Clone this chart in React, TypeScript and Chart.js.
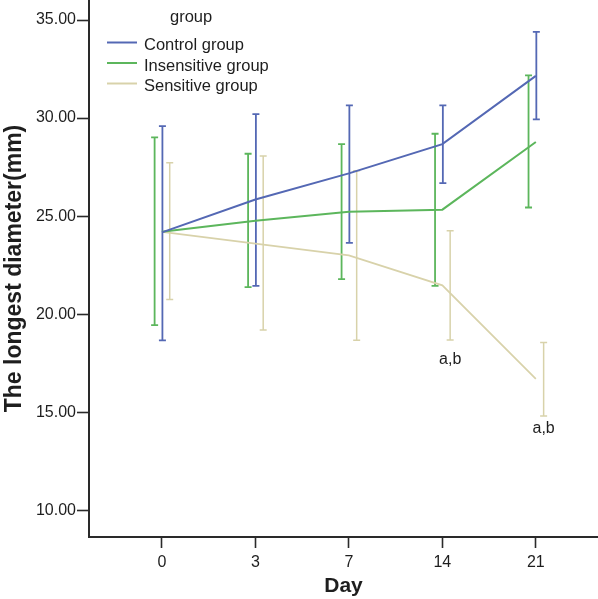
import React, { useEffect, useRef } from 'react';
import { Chart, registerables } from 'chart.js';

Chart.register(...registerables);

// ---- data ----
const days = ['0', '3', '7', '14', '21'];
const legendTitle = 'group';
const seriesNames = ['Control group', 'Insensitive group', 'Sensitive group'];

const controlMean = [24.17, 25.85, 27.18, 28.67, 32.15];
const controlLow = [18.67, 21.44, 23.64, 26.68, 29.93];
const controlHigh = [29.59, 30.2, 30.65, 30.65, 34.39];

const insensitiveMean = [24.2, 24.77, 25.22, 25.33, 28.78];
const insensitiveLow = [19.44, 21.38, 21.79, 21.44, 25.44];
const insensitiveHigh = [29.02, 28.18, 28.67, 29.2, 32.18];

const sensitiveMean = [24.2, 23.6, 23.0, 21.47, 16.7];
const sensitiveLow = [20.75, 19.2, 18.67, 18.69, 14.81];
const sensitiveHigh = [27.72, 28.06, 27.31, 24.25, 18.56];

const sensitiveMarks = ['', '', '', 'a,b', 'a,b'];
const sensitiveMarkValues = [null, null, null, 17.45, 13.95];

const yTicks = [10, 15, 20, 25, 30, 35];
const yMin = 8.64;
const yMax = 36.02;
const xMin = -0.78;
const xMax = 4.665;

const FONT = "'Liberation Sans', Arial, Helvetica, sans-serif";
const TEXT = '#1e1e1e';
const AXIS = '#2a2a2a';

const COLORS = ['#5468b4', '#5cb65c', '#d8d2aa'];

const toPoints = (arr: number[]) => arr.map((v, i) => ({ x: i, y: v }));

const errorBarPlugin = {
  id: 'errorBars',
  beforeDatasetsDraw(chart: any) {
    const { ctx } = chart;
    const xs = chart.scales.x;
    const ys = chart.scales.y;
    const cap = 3.5;
    chart.data.datasets.forEach((ds: any) => {
      ctx.save();
      ctx.strokeStyle = ds.borderColor;
      ctx.lineWidth = ds.errWidth;
      ds.errLow.forEach((lo: number, i: number) => {
        const px = xs.getPixelForValue(i) + ds.dodge;
        const pLo = ys.getPixelForValue(lo);
        const pHi = ys.getPixelForValue(ds.errHigh[i]);
        ctx.beginPath();
        ctx.moveTo(px, pLo);
        ctx.lineTo(px, pHi);
        ctx.moveTo(px - cap, pLo);
        ctx.lineTo(px + cap, pLo);
        ctx.moveTo(px - cap, pHi);
        ctx.lineTo(px + cap, pHi);
        ctx.stroke();
      });
      ctx.restore();
    });
  },
  afterDraw(chart: any) {
    const { ctx, chartArea } = chart;
    const xs = chart.scales.x;
    const ys = chart.scales.y;
    ctx.save();
    // significance marks on sensitive group
    const sens: any = chart.data.datasets[2];
    ctx.font = `16px ${FONT}`;
    ctx.fillStyle = TEXT;
    ctx.textAlign = 'center';
    ctx.textBaseline = 'alphabetic';
    sensitiveMarks.forEach((m, i) => {
      const v = sensitiveMarkValues[i];
      if (!m || v == null) return;
      ctx.fillText(m, xs.getPixelForValue(i) + sens.dodge, ys.getPixelForValue(v));
    });
    // legend
    const L = chartArea.left;
    const T = chartArea.top;
    ctx.font = `16.5px ${FONT}`;
    ctx.textAlign = 'left';
    ctx.fillText(legendTitle, L + 81, T + 22);
    const rows = [42.5, 63, 83.5];
    chart.data.datasets.forEach((ds: any, i: number) => {
      const yy = T + rows[i];
      ctx.strokeStyle = ds.borderColor;
      ctx.lineWidth = 2;
      ctx.beginPath();
      ctx.moveTo(L + 18, yy);
      ctx.lineTo(L + 48, yy);
      ctx.stroke();
      ctx.fillStyle = TEXT;
      ctx.fillText(ds.label, L + 55, yy + 7.6);
    });
    ctx.restore();
  },
};

export default function App() {
  const ref = useRef<HTMLCanvasElement | null>(null);

  useEffect(() => {
    if (!ref.current) return;
    const chart = new Chart(ref.current, {
      type: 'line',
      data: {
        datasets: [
          {
            label: seriesNames[0],
            data: toPoints(controlMean),
            borderColor: COLORS[0],
            borderWidth: 2,
            pointRadius: 0,
            errLow: controlLow,
            errHigh: controlHigh,
            dodge: 0.5,
            errWidth: 1.8,
          } as any,
          {
            label: seriesNames[1],
            data: toPoints(insensitiveMean),
            borderColor: COLORS[1],
            borderWidth: 2,
            pointRadius: 0,
            errLow: insensitiveLow,
            errHigh: insensitiveHigh,
            dodge: -7.3,
            errWidth: 1.8,
          } as any,
          {
            label: seriesNames[2],
            data: toPoints(sensitiveMean),
            borderColor: COLORS[2],
            borderWidth: 1.7,
            pointRadius: 0,
            errLow: sensitiveLow,
            errHigh: sensitiveHigh,
            dodge: 7.8,
            errWidth: 1.5,
          } as any,
        ],
      },
      options: {
        animation: false,
        responsive: true,
        maintainAspectRatio: false,
        layout: { padding: 0 },
        plugins: {
          legend: { display: false },
          tooltip: { enabled: false },
        },
        scales: {
          x: {
            type: 'linear',
            min: xMin,
            max: xMax,
            afterBuildTicks: (s: any) => {
              s.ticks = days.map((_, i) => ({ value: i }));
            },
            afterFit: (s: any) => {
              s.height = 62;
              s.paddingLeft = 0;
              s.paddingRight = 0;
            },
            ticks: {
              callback: (v: any) => days[v as number] ?? '',
              font: { family: FONT, size: 16 },
              color: TEXT,
              padding: 5,
              maxRotation: 0,
              autoSkip: false,
            },
            grid: {
              drawOnChartArea: false,
              drawTicks: true,
              tickLength: 11,
              tickColor: AXIS,
              tickWidth: 1.6,
            },
            border: { display: true, color: AXIS, width: 2 },
            title: {
              display: true,
              text: 'Day',
              font: { family: FONT, size: 21, weight: 'bold' },
              color: TEXT,
              padding: { top: 0, bottom: 0 },
            },
          },
          y: {
            type: 'linear',
            min: yMin,
            max: yMax,
            afterBuildTicks: (s: any) => {
              s.ticks = yTicks.map((v) => ({ value: v }));
            },
            afterFit: (s: any) => {
              s.width = 89;
              s.paddingTop = 0;
              s.paddingBottom = 0;
            },
            ticks: {
              callback: (v: any) => Number(v).toFixed(2),
              font: { family: FONT, size: 16 },
              color: TEXT,
              padding: 1,
            },
            grid: {
              drawOnChartArea: false,
              drawTicks: true,
              tickLength: 12,
              tickColor: AXIS,
              tickWidth: 1.6,
            },
            border: { display: true, color: AXIS, width: 2 },
            title: {
              display: true,
              text: 'The longest diameter(mm)',
              font: { family: FONT, size: 23, weight: 'bold' },
              color: TEXT,
              padding: { top: 1, bottom: 0 },
            },
          },
        },
      } as any,
      plugins: [errorBarPlugin],
    });
    return () => chart.destroy();
  }, []);

  return (
    <div style={{ position: 'fixed', left: 0, top: 0, width: 598, height: 599, background: '#fff' }}>
      <canvas ref={ref} />
    </div>
  );
}
